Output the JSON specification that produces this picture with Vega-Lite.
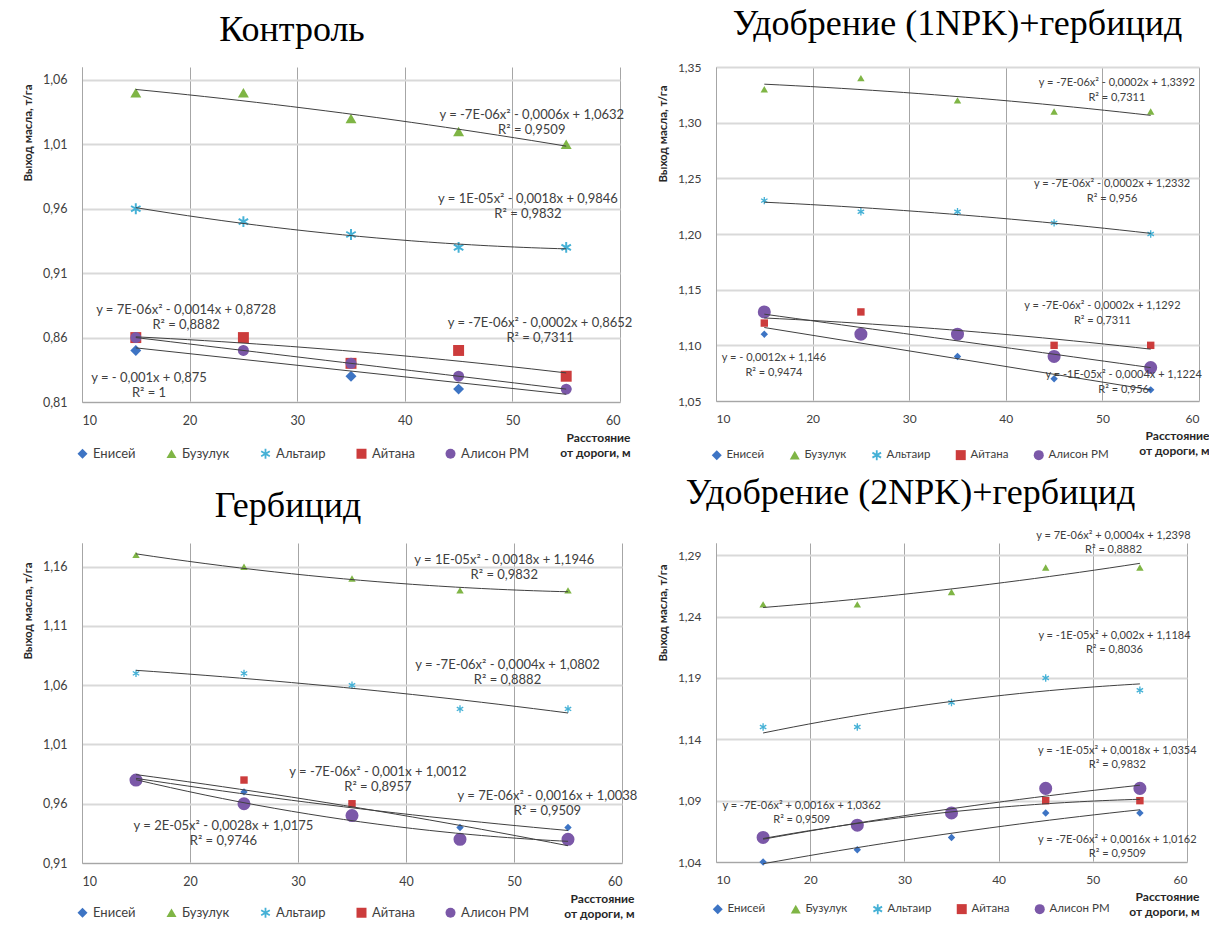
{
  "$schema": "https://vega.github.io/schema/vega-lite/v6.json",
  "padding": {"left": 22, "top": 6, "right": 0, "bottom": 0},
  "background": "white",
  "datasets": {
    "pts": [
      {"panel": "P1", "variety": "Енисей", "x": 15, "y": 0.85},
      {"panel": "P1", "variety": "Енисей", "x": 25, "y": 0.85},
      {"panel": "P1", "variety": "Енисей", "x": 35, "y": 0.83},
      {"panel": "P1", "variety": "Енисей", "x": 45, "y": 0.82},
      {"panel": "P1", "variety": "Енисей", "x": 55, "y": 0.82},
      {"panel": "P1", "variety": "Бузулук", "x": 15, "y": 1.05},
      {"panel": "P1", "variety": "Бузулук", "x": 25, "y": 1.05},
      {"panel": "P1", "variety": "Бузулук", "x": 35, "y": 1.03},
      {"panel": "P1", "variety": "Бузулук", "x": 45, "y": 1.02},
      {"panel": "P1", "variety": "Бузулук", "x": 55, "y": 1.01},
      {"panel": "P1", "variety": "Альтаир", "x": 15, "y": 0.96},
      {"panel": "P1", "variety": "Альтаир", "x": 25, "y": 0.95},
      {"panel": "P1", "variety": "Альтаир", "x": 35, "y": 0.94},
      {"panel": "P1", "variety": "Альтаир", "x": 45, "y": 0.93},
      {"panel": "P1", "variety": "Альтаир", "x": 55, "y": 0.93},
      {"panel": "P1", "variety": "Айтана", "x": 15, "y": 0.86},
      {"panel": "P1", "variety": "Айтана", "x": 25, "y": 0.86},
      {"panel": "P1", "variety": "Айтана", "x": 35, "y": 0.84},
      {"panel": "P1", "variety": "Айтана", "x": 45, "y": 0.85},
      {"panel": "P1", "variety": "Айтана", "x": 55, "y": 0.83},
      {"panel": "P1", "variety": "Алисон РМ", "x": 15, "y": 0.86},
      {"panel": "P1", "variety": "Алисон РМ", "x": 25, "y": 0.85},
      {"panel": "P1", "variety": "Алисон РМ", "x": 35, "y": 0.84},
      {"panel": "P1", "variety": "Алисон РМ", "x": 45, "y": 0.83},
      {"panel": "P1", "variety": "Алисон РМ", "x": 55, "y": 0.82},

      {"panel": "P2", "variety": "Енисей", "x": 15, "y": 1.11},
      {"panel": "P2", "variety": "Енисей", "x": 25, "y": 1.11},
      {"panel": "P2", "variety": "Енисей", "x": 35, "y": 1.09},
      {"panel": "P2", "variety": "Енисей", "x": 45, "y": 1.07},
      {"panel": "P2", "variety": "Енисей", "x": 55, "y": 1.06},
      {"panel": "P2", "variety": "Бузулук", "x": 15, "y": 1.33},
      {"panel": "P2", "variety": "Бузулук", "x": 25, "y": 1.34},
      {"panel": "P2", "variety": "Бузулук", "x": 35, "y": 1.32},
      {"panel": "P2", "variety": "Бузулук", "x": 45, "y": 1.31},
      {"panel": "P2", "variety": "Бузулук", "x": 55, "y": 1.31},
      {"panel": "P2", "variety": "Альтаир", "x": 15, "y": 1.23},
      {"panel": "P2", "variety": "Альтаир", "x": 25, "y": 1.22},
      {"panel": "P2", "variety": "Альтаир", "x": 35, "y": 1.22},
      {"panel": "P2", "variety": "Альтаир", "x": 45, "y": 1.21},
      {"panel": "P2", "variety": "Альтаир", "x": 55, "y": 1.20},
      {"panel": "P2", "variety": "Айтана", "x": 15, "y": 1.12},
      {"panel": "P2", "variety": "Айтана", "x": 25, "y": 1.13},
      {"panel": "P2", "variety": "Айтана", "x": 35, "y": 1.11},
      {"panel": "P2", "variety": "Айтана", "x": 45, "y": 1.10},
      {"panel": "P2", "variety": "Айтана", "x": 55, "y": 1.10},
      {"panel": "P2", "variety": "Алисон РМ", "x": 15, "y": 1.13},
      {"panel": "P2", "variety": "Алисон РМ", "x": 25, "y": 1.11},
      {"panel": "P2", "variety": "Алисон РМ", "x": 35, "y": 1.11},
      {"panel": "P2", "variety": "Алисон РМ", "x": 45, "y": 1.09},
      {"panel": "P2", "variety": "Алисон РМ", "x": 55, "y": 1.08},

      {"panel": "P3", "variety": "Енисей", "x": 15, "y": 0.98},
      {"panel": "P3", "variety": "Енисей", "x": 25, "y": 0.97},
      {"panel": "P3", "variety": "Енисей", "x": 35, "y": 0.96},
      {"panel": "P3", "variety": "Енисей", "x": 45, "y": 0.94},
      {"panel": "P3", "variety": "Енисей", "x": 55, "y": 0.94},
      {"panel": "P3", "variety": "Бузулук", "x": 15, "y": 1.17},
      {"panel": "P3", "variety": "Бузулук", "x": 25, "y": 1.16},
      {"panel": "P3", "variety": "Бузулук", "x": 35, "y": 1.15},
      {"panel": "P3", "variety": "Бузулук", "x": 45, "y": 1.14},
      {"panel": "P3", "variety": "Бузулук", "x": 55, "y": 1.14},
      {"panel": "P3", "variety": "Альтаир", "x": 15, "y": 1.07},
      {"panel": "P3", "variety": "Альтаир", "x": 25, "y": 1.07},
      {"panel": "P3", "variety": "Альтаир", "x": 35, "y": 1.06},
      {"panel": "P3", "variety": "Альтаир", "x": 45, "y": 1.04},
      {"panel": "P3", "variety": "Альтаир", "x": 55, "y": 1.04},
      {"panel": "P3", "variety": "Айтана", "x": 15, "y": 0.98},
      {"panel": "P3", "variety": "Айтана", "x": 25, "y": 0.98},
      {"panel": "P3", "variety": "Айтана", "x": 35, "y": 0.96},
      {"panel": "P3", "variety": "Айтана", "x": 45, "y": 0.93},
      {"panel": "P3", "variety": "Айтана", "x": 55, "y": 0.93},
      {"panel": "P3", "variety": "Алисон РМ", "x": 15, "y": 0.98},
      {"panel": "P3", "variety": "Алисон РМ", "x": 25, "y": 0.96},
      {"panel": "P3", "variety": "Алисон РМ", "x": 35, "y": 0.95},
      {"panel": "P3", "variety": "Алисон РМ", "x": 45, "y": 0.93},
      {"panel": "P3", "variety": "Алисон РМ", "x": 55, "y": 0.93},

      {"panel": "P4", "variety": "Енисей", "x": 15, "y": 1.04},
      {"panel": "P4", "variety": "Енисей", "x": 25, "y": 1.05},
      {"panel": "P4", "variety": "Енисей", "x": 35, "y": 1.06},
      {"panel": "P4", "variety": "Енисей", "x": 45, "y": 1.08},
      {"panel": "P4", "variety": "Енисей", "x": 55, "y": 1.08},
      {"panel": "P4", "variety": "Бузулук", "x": 15, "y": 1.25},
      {"panel": "P4", "variety": "Бузулук", "x": 25, "y": 1.25},
      {"panel": "P4", "variety": "Бузулук", "x": 35, "y": 1.26},
      {"panel": "P4", "variety": "Бузулук", "x": 45, "y": 1.28},
      {"panel": "P4", "variety": "Бузулук", "x": 55, "y": 1.28},
      {"panel": "P4", "variety": "Альтаир", "x": 15, "y": 1.15},
      {"panel": "P4", "variety": "Альтаир", "x": 25, "y": 1.15},
      {"panel": "P4", "variety": "Альтаир", "x": 35, "y": 1.17},
      {"panel": "P4", "variety": "Альтаир", "x": 45, "y": 1.19},
      {"panel": "P4", "variety": "Альтаир", "x": 55, "y": 1.18},
      {"panel": "P4", "variety": "Айтана", "x": 15, "y": 1.06},
      {"panel": "P4", "variety": "Айтана", "x": 25, "y": 1.07},
      {"panel": "P4", "variety": "Айтана", "x": 35, "y": 1.08},
      {"panel": "P4", "variety": "Айтана", "x": 45, "y": 1.09},
      {"panel": "P4", "variety": "Айтана", "x": 55, "y": 1.09},
      {"panel": "P4", "variety": "Алисон РМ", "x": 15, "y": 1.06},
      {"panel": "P4", "variety": "Алисон РМ", "x": 25, "y": 1.07},
      {"panel": "P4", "variety": "Алисон РМ", "x": 35, "y": 1.08},
      {"panel": "P4", "variety": "Алисон РМ", "x": 45, "y": 1.10},
      {"panel": "P4", "variety": "Алисон РМ", "x": 55, "y": 1.10}
    ],
    "eqs": [
      {"panel": "P1", "x": 51.8, "y": 1.0327, "eq": "y = -7E-06x² - 0,0006x + 1,0632", "r2": "R² = 0,9509"},
      {"panel": "P1", "x": 51.45, "y": 0.9675, "eq": "y = 1E-05x² - 0,0018x + 0,9846", "r2": "R² = 0,9832"},
      {"panel": "P1", "x": 19.67, "y": 0.8813, "eq": "y = 7E-06x² - 0,0014x + 0,8728", "r2": "R² = 0,8882"},
      {"panel": "P1", "x": 52.57, "y": 0.8712, "eq": "y = -7E-06x² - 0,0002x + 0,8652", "r2": "R² = 0,7311"},
      {"panel": "P1", "x": 16.23, "y": 0.8285, "eq": "y =  - 0,001x + 0,875", "r2": "R² = 1"},
      {"panel": "P2", "x": 51.5, "y": 1.3356, "eq": "y = -7E-06x² - 0,0002x + 1,3392", "r2": "R² = 0,7311"},
      {"panel": "P2", "x": 51.0, "y": 1.2449, "eq": "y = -7E-06x² - 0,0002x + 1,2332", "r2": "R² = 0,956"},
      {"panel": "P2", "x": 50.0, "y": 1.1353, "eq": "y = -7E-06x² - 0,0002x + 1,1292", "r2": "R² = 0,7311"},
      {"panel": "P2", "x": 16.0, "y": 1.0885, "eq": "y =  - 0,0012x + 1,146", "r2": "R² = 0,9474"},
      {"panel": "P2", "x": 52.2, "y": 1.0733, "eq": "y = -1E-05x² - 0,0004x + 1,1224", "r2": "R² = 0,956"},
      {"panel": "P3", "x": 49.1, "y": 1.1656, "eq": "y = 1E-05x² - 0,0018x + 1,1946", "r2": "R² = 0,9832"},
      {"panel": "P3", "x": 49.4, "y": 1.077, "eq": "y = -7E-06x² - 0,0004x + 1,0802", "r2": "R² = 0,8882"},
      {"panel": "P3", "x": 37.4, "y": 0.9866, "eq": "y = -7E-06x² - 0,001x + 1,0012", "r2": "R² = 0,8957"},
      {"panel": "P3", "x": 53.1, "y": 0.9663, "eq": "y = 7E-06x² - 0,0016x + 1,0038", "r2": "R² = 0,9509"},
      {"panel": "P3", "x": 23.1, "y": 0.941, "eq": "y = 2E-05x² - 0,0028x + 1,0175", "r2": "R² = 0,9746"},
      {"panel": "P4", "x": 52.2, "y": 1.3057, "eq": "y = 7E-06x² + 0,0004x + 1,2398", "r2": "R² = 0,8882"},
      {"panel": "P4", "x": 52.3, "y": 1.2243, "eq": "y = -1E-05x² + 0,002x + 1,1184", "r2": "R² = 0,8036"},
      {"panel": "P4", "x": 52.6, "y": 1.1306, "eq": "y = -1E-05x² + 0,0018x + 1,0354", "r2": "R² = 0,9832"},
      {"panel": "P4", "x": 19.1, "y": 1.0858, "eq": "y = -7E-06x² + 0,0016x + 1,0362", "r2": "R² = 0,9509"},
      {"panel": "P4", "x": 52.6, "y": 1.0581, "eq": "y = -7E-06x² + 0,0016x + 1,0162", "r2": "R² = 0,9509"}
    ]
  },
  "columns": 2,
  "bounds": "flush",
  "spacing": {"row": 141, "column": 94},
  "resolve": {
    "scale": {"x": "independent", "y": "independent", "color": "independent", "shape": "independent"},
    "axis": {"x": "independent", "y": "independent"},
    "legend": {"color": "independent", "shape": "independent"}
  },
  "concat": [
    {
      "width": 538, "height": 335,
      "title": {"text": "Контроль", "fontSize": 36, "anchor": "middle", "frame": "group", "dx": -59, "offset": -10, "baseline": "alphabetic"},
      "layer": [
        {
          "data": {"name": "pts"},
          "transform": [{"filter": "datum.panel === 'P1'"}],
          "mark": {"type": "point", "filled": true, "opacity": 1, "size": 120},
          "encoding": {
            "x": {"field": "x", "type": "quantitative", "scale": {"domain": [10, 60], "nice": false},
              "axis": {"values": [10, 20, 30, 40, 50, 60], "labelFontSize": 12.5, "labelPadding": 12, "title": ["Расстояние", "от дороги, м"], "titleAnchor": "end", "titleAlign": "right", "titleX": 548, "titlePadding": 6, "titleFontSize": 12, "titleFontWeight": "bold", "titleLineHeight": 15}},
            "y": {"field": "y", "type": "quantitative", "scale": {"domain": [0.81, 1.07], "nice": false, "zero": false},
              "axis": {"values": [0.81, 0.86, 0.91, 0.96, 1.01, 1.06], "labelExpr": "replace(format(datum.value, '.2f'), '.', ',')", "labelFontSize": 12.5, "labelPadding": 15, "title": "Выход масла,  т/га", "titleAnchor": "end", "titleY": 17, "titlePadding": 9, "titleFontSize": 11.5, "titleFontWeight": "bold"}},
            "color": {"field": "variety", "type": "nominal",
              "scale": {"domain": ["Енисей", "Бузулук", "Альтаир", "Айтана", "Алисон РМ"], "range": ["#3d74c4", "#7fb545", "#45b1d6", "#cc3c3c", "#7b58a8"]},
              "legend": {"title": null, "orient": "none", "direction": "horizontal", "legendX": -6, "legendY": 380, "labelFontSize": 13, "columnPadding": 29, "labelOffset": 4, "symbolSize": 100}},
            "shape": {"field": "variety", "type": "nominal",
              "scale": {"domain": ["Енисей", "Бузулук", "Альтаир", "Айтана", "Алисон РМ"], "range": ["diamond", "triangle-up", "M-0.18,-1L0.18,-1L0.18,1L-0.18,1ZM-0.956,-0.344L-0.776,-0.656L0.956,0.344L0.776,0.656ZM0.776,-0.656L0.956,-0.344L-0.776,0.656L-0.956,0.344Z", "square", "circle"]},
              "legend": {"title": null, "orient": "none", "direction": "horizontal", "legendX": -6, "legendY": 380, "labelFontSize": 13, "columnPadding": 29, "labelOffset": 4, "symbolSize": 100}}
          }
        },
        {
          "data": {"name": "pts"},
          "transform": [{"filter": "datum.panel === 'P1' && datum.variety !== 'Енисей'"}, {"regression": "y", "on": "x", "groupby": ["variety"], "method": "poly", "order": 2}],
          "mark": {"type": "line", "color": "#404040", "strokeWidth": 1},
          "encoding": {"x": {"field": "x", "type": "quantitative"}, "y": {"field": "y", "type": "quantitative"}, "detail": {"field": "variety", "type": "nominal"}}
        },
        {
          "data": {"name": "pts"},
          "transform": [{"filter": "datum.panel === 'P1' && datum.variety === 'Енисей'"}, {"regression": "y", "on": "x", "method": "linear"}],
          "mark": {"type": "line", "color": "#404040", "strokeWidth": 1},
          "encoding": {"x": {"field": "x", "type": "quantitative"}, "y": {"field": "y", "type": "quantitative"}}
        },
        {
          "data": {"name": "eqs"},
          "transform": [{"filter": "datum.panel === 'P1'"}],
          "mark": {"type": "text", "font": "Lato", "fontSize": 13, "color": "#404040", "align": "center", "baseline": "middle"},
          "encoding": {"x": {"field": "x", "type": "quantitative"}, "y": {"field": "y", "type": "quantitative"}, "text": {"field": "eq"}}
        },
        {
          "data": {"name": "eqs"},
          "transform": [{"filter": "datum.panel === 'P1'"}],
          "mark": {"type": "text", "font": "Lato", "fontSize": 13, "color": "#404040", "align": "center", "baseline": "middle", "dy": 15},
          "encoding": {"x": {"field": "x", "type": "quantitative"}, "y": {"field": "y", "type": "quantitative"}, "text": {"field": "r2"}}
        }
      ]
    },
    {
      "width": 483, "height": 334,
      "title": {"text": "Удобрение (1NPK)+гербицид", "fontSize": 36, "anchor": "middle", "frame": "group", "dx": 0, "offset": -10, "baseline": "alphabetic"},
      "layer": [
        {
          "data": {"name": "pts"},
          "transform": [{"filter": "datum.panel === 'P2'"}],
          "mark": {"type": "point", "filled": true, "opacity": 1},
          "encoding": {
            "x": {"field": "x", "type": "quantitative", "scale": {"domain": [10, 60], "nice": false},
              "axis": {"values": [10, 20, 30, 40, 50, 60], "labelFontSize": 12, "labelPadding": 12, "title": ["Расстояние", "от дороги, м"], "titleAnchor": "end", "titleAlign": "right", "titleX": 493, "titlePadding": 6, "titleFontSize": 12, "titleFontWeight": "bold", "titleLineHeight": 15}},
            "y": {"field": "y", "type": "quantitative", "scale": {"domain": [1.05, 1.35], "nice": false, "zero": false},
              "axis": {"values": [1.05, 1.10, 1.15, 1.20, 1.25, 1.30, 1.35], "labelExpr": "replace(format(datum.value, '.2f'), '.', ',')", "labelFontSize": 12, "labelPadding": 15, "title": "Выход масла,  т/га", "titleAnchor": "end", "titleY": 18, "titlePadding": 9, "titleFontSize": 11.5, "titleFontWeight": "bold"}},
            "size": {"condition": {"test": "datum.variety === 'Алисон РМ'", "value": 170}, "value": 55},
            "color": {"field": "variety", "type": "nominal",
              "scale": {"domain": ["Енисей", "Бузулук", "Альтаир", "Айтана", "Алисон РМ"], "range": ["#3d74c4", "#7fb545", "#45b1d6", "#cc3c3c", "#7b58a8"]},
              "legend": {"title": null, "orient": "none", "direction": "horizontal", "legendX": -5, "legendY": 382, "labelFontSize": 11.5, "columnPadding": 24, "labelOffset": 4, "encode": {"symbols": {"update": {"size": {"signal": "datum.value === 'Алисон РМ' ? 110 : 45"}}}}}},
            "shape": {"field": "variety", "type": "nominal",
              "scale": {"domain": ["Енисей", "Бузулук", "Альтаир", "Айтана", "Алисон РМ"], "range": ["diamond", "triangle-up", "M-0.18,-1L0.18,-1L0.18,1L-0.18,1ZM-0.956,-0.344L-0.776,-0.656L0.956,0.344L0.776,0.656ZM0.776,-0.656L0.956,-0.344L-0.776,0.656L-0.956,0.344Z", "square", "circle"]},
              "legend": {"title": null, "orient": "none", "direction": "horizontal", "legendX": -5, "legendY": 382, "labelFontSize": 11.5, "columnPadding": 24, "labelOffset": 4, "encode": {"symbols": {"update": {"size": {"signal": "datum.value === 'Алисон РМ' ? 110 : 45"}}}}}}
          }
        },
        {
          "data": {"name": "pts"},
          "transform": [{"filter": "datum.panel === 'P2' && datum.variety !== 'Енисей'"}, {"regression": "y", "on": "x", "groupby": ["variety"], "method": "poly", "order": 2}],
          "mark": {"type": "line", "color": "#404040", "strokeWidth": 1},
          "encoding": {"x": {"field": "x", "type": "quantitative"}, "y": {"field": "y", "type": "quantitative"}, "detail": {"field": "variety", "type": "nominal"}}
        },
        {
          "data": {"name": "pts"},
          "transform": [{"filter": "datum.panel === 'P2' && datum.variety === 'Енисей'"}, {"regression": "y", "on": "x", "method": "linear"}],
          "mark": {"type": "line", "color": "#404040", "strokeWidth": 1},
          "encoding": {"x": {"field": "x", "type": "quantitative"}, "y": {"field": "y", "type": "quantitative"}}
        },
        {
          "data": {"name": "eqs"},
          "transform": [{"filter": "datum.panel === 'P2'"}],
          "mark": {"type": "text", "font": "Lato", "fontSize": 11, "color": "#404040", "align": "center", "baseline": "middle"},
          "encoding": {"x": {"field": "x", "type": "quantitative"}, "y": {"field": "y", "type": "quantitative"}, "text": {"field": "eq"}}
        },
        {
          "data": {"name": "eqs"},
          "transform": [{"filter": "datum.panel === 'P2'"}],
          "mark": {"type": "text", "font": "Lato", "fontSize": 11, "color": "#404040", "align": "center", "baseline": "middle", "dy": 15},
          "encoding": {"x": {"field": "x", "type": "quantitative"}, "y": {"field": "y", "type": "quantitative"}, "text": {"field": "r2"}}
        }
      ]
    },
    {
      "width": 540, "height": 320,
      "title": {"text": "Гербицид", "fontSize": 36, "anchor": "middle", "frame": "group", "dx": -64, "offset": -10, "baseline": "alphabetic"},
      "layer": [
        {
          "data": {"name": "pts"},
          "transform": [{"filter": "datum.panel === 'P3'"}],
          "mark": {"type": "point", "filled": true, "opacity": 1},
          "encoding": {
            "x": {"field": "x", "type": "quantitative", "scale": {"domain": [10, 60], "nice": false},
              "axis": {"values": [10, 20, 30, 40, 50, 60], "labelFontSize": 12.5, "labelPadding": 12, "title": ["Расстояние", "от дороги, м"], "titleAnchor": "end", "titleAlign": "right", "titleX": 552, "titlePadding": 6, "titleFontSize": 12, "titleFontWeight": "bold", "titleLineHeight": 15}},
            "y": {"field": "y", "type": "quantitative", "scale": {"domain": [0.91, 1.18], "nice": false, "zero": false},
              "axis": {"values": [0.91, 0.96, 1.01, 1.06, 1.11, 1.16], "labelExpr": "replace(format(datum.value, '.2f'), '.', ',')", "labelFontSize": 12.5, "labelPadding": 15, "title": "Выход масла,  т/га", "titleAnchor": "end", "titleY": 19, "titlePadding": 9, "titleFontSize": 11.5, "titleFontWeight": "bold"}},
            "size": {"condition": {"test": "datum.variety === 'Алисон РМ'", "value": 170}, "value": 55},
            "color": {"field": "variety", "type": "nominal",
              "scale": {"domain": ["Енисей", "Бузулук", "Альтаир", "Айтана", "Алисон РМ"], "range": ["#3d74c4", "#7fb545", "#45b1d6", "#cc3c3c", "#7b58a8"]},
              "legend": {"title": null, "orient": "none", "direction": "horizontal", "legendX": -6, "legendY": 363, "labelFontSize": 13, "columnPadding": 29, "labelOffset": 4, "encode": {"symbols": {"update": {"size": {"signal": "datum.value === 'Алисон РМ' ? 110 : 45"}}}}}},
            "shape": {"field": "variety", "type": "nominal",
              "scale": {"domain": ["Енисей", "Бузулук", "Альтаир", "Айтана", "Алисон РМ"], "range": ["diamond", "triangle-up", "M-0.18,-1L0.18,-1L0.18,1L-0.18,1ZM-0.956,-0.344L-0.776,-0.656L0.956,0.344L0.776,0.656ZM0.776,-0.656L0.956,-0.344L-0.776,0.656L-0.956,0.344Z", "square", "circle"]},
              "legend": {"title": null, "orient": "none", "direction": "horizontal", "legendX": -6, "legendY": 363, "labelFontSize": 13, "columnPadding": 29, "labelOffset": 4, "encode": {"symbols": {"update": {"size": {"signal": "datum.value === 'Алисон РМ' ? 110 : 45"}}}}}}
          }
        },
        {
          "data": {"name": "pts"},
          "transform": [{"filter": "datum.panel === 'P3'"}, {"regression": "y", "on": "x", "groupby": ["variety"], "method": "poly", "order": 2}],
          "mark": {"type": "line", "color": "#404040", "strokeWidth": 1},
          "encoding": {"x": {"field": "x", "type": "quantitative"}, "y": {"field": "y", "type": "quantitative"}, "detail": {"field": "variety", "type": "nominal"}}
        },
        {
          "data": {"name": "eqs"},
          "transform": [{"filter": "datum.panel === 'P3'"}],
          "mark": {"type": "text", "font": "Lato", "fontSize": 13, "color": "#404040", "align": "center", "baseline": "middle"},
          "encoding": {"x": {"field": "x", "type": "quantitative"}, "y": {"field": "y", "type": "quantitative"}, "text": {"field": "eq"}}
        },
        {
          "data": {"name": "eqs"},
          "transform": [{"filter": "datum.panel === 'P3'"}],
          "mark": {"type": "text", "font": "Lato", "fontSize": 13, "color": "#404040", "align": "center", "baseline": "middle", "dy": 15},
          "encoding": {"x": {"field": "x", "type": "quantitative"}, "y": {"field": "y", "type": "quantitative"}, "text": {"field": "r2"}}
        }
      ]
    },
    {
      "width": 471, "height": 319,
      "title": {"text": "Удобрение (2NPK)+гербицид", "fontSize": 36, "anchor": "middle", "frame": "group", "dx": -41, "offset": -10, "baseline": "alphabetic"},
      "layer": [
        {
          "data": {"name": "pts"},
          "transform": [{"filter": "datum.panel === 'P4'"}],
          "mark": {"type": "point", "filled": true, "opacity": 1},
          "encoding": {
            "x": {"field": "x", "type": "quantitative", "scale": {"domain": [10, 60], "nice": false},
              "axis": {"values": [10, 20, 30, 40, 50, 60], "labelFontSize": 12, "labelPadding": 12, "title": ["Расстояние", "от дороги, м"], "titleAnchor": "end", "titleAlign": "right", "titleX": 483, "titlePadding": 6, "titleFontSize": 12, "titleFontWeight": "bold", "titleLineHeight": 15}},
            "y": {"field": "y", "type": "quantitative", "scale": {"domain": [1.04, 1.30], "nice": false, "zero": false},
              "axis": {"values": [1.04, 1.09, 1.14, 1.19, 1.24, 1.29], "labelExpr": "replace(format(datum.value, '.2f'), '.', ',')", "labelFontSize": 12, "labelPadding": 15, "title": "Выход масла,  т/га", "titleAnchor": "end", "titleY": 21, "titlePadding": 9, "titleFontSize": 11.5, "titleFontWeight": "bold"}},
            "size": {"condition": {"test": "datum.variety === 'Алисон РМ'", "value": 170}, "value": 55},
            "color": {"field": "variety", "type": "nominal",
              "scale": {"domain": ["Енисей", "Бузулук", "Альтаир", "Айтана", "Алисон РМ"], "range": ["#3d74c4", "#7fb545", "#45b1d6", "#cc3c3c", "#7b58a8"]},
              "legend": {"title": null, "orient": "none", "direction": "horizontal", "legendX": -4, "legendY": 360, "labelFontSize": 11.5, "columnPadding": 24, "labelOffset": 4, "encode": {"symbols": {"update": {"size": {"signal": "datum.value === 'Алисон РМ' ? 110 : 45"}}}}}},
            "shape": {"field": "variety", "type": "nominal",
              "scale": {"domain": ["Енисей", "Бузулук", "Альтаир", "Айтана", "Алисон РМ"], "range": ["diamond", "triangle-up", "M-0.18,-1L0.18,-1L0.18,1L-0.18,1ZM-0.956,-0.344L-0.776,-0.656L0.956,0.344L0.776,0.656ZM0.776,-0.656L0.956,-0.344L-0.776,0.656L-0.956,0.344Z", "square", "circle"]},
              "legend": {"title": null, "orient": "none", "direction": "horizontal", "legendX": -4, "legendY": 360, "labelFontSize": 11.5, "columnPadding": 24, "labelOffset": 4, "encode": {"symbols": {"update": {"size": {"signal": "datum.value === 'Алисон РМ' ? 110 : 45"}}}}}}
          }
        },
        {
          "data": {"name": "pts"},
          "transform": [{"filter": "datum.panel === 'P4'"}, {"regression": "y", "on": "x", "groupby": ["variety"], "method": "poly", "order": 2}],
          "mark": {"type": "line", "color": "#404040", "strokeWidth": 1},
          "encoding": {"x": {"field": "x", "type": "quantitative"}, "y": {"field": "y", "type": "quantitative"}, "detail": {"field": "variety", "type": "nominal"}}
        },
        {
          "data": {"name": "eqs"},
          "transform": [{"filter": "datum.panel === 'P4'"}],
          "mark": {"type": "text", "font": "Lato", "fontSize": 11, "color": "#404040", "align": "center", "baseline": "middle"},
          "encoding": {"x": {"field": "x", "type": "quantitative"}, "y": {"field": "y", "type": "quantitative"}, "text": {"field": "eq"}}
        },
        {
          "data": {"name": "eqs"},
          "transform": [{"filter": "datum.panel === 'P4'"}],
          "mark": {"type": "text", "font": "Lato", "fontSize": 11, "color": "#404040", "align": "center", "baseline": "middle", "dy": 14},
          "encoding": {"x": {"field": "x", "type": "quantitative"}, "y": {"field": "y", "type": "quantitative"}, "text": {"field": "r2"}}
        }
      ]
    }
  ],
  "config": {
    "view": {"stroke": null},
    "font": "Lato",
    "axis": {"labelFont": "Lato", "labelColor": "#404040", "ticks": false, "domainColor": "#a6a6a6", "titleFont": "Lato", "titleColor": "#262626", "grid": true},
    "axisX": {"gridColor": "#a6a6a6", "gridWidth": 1, "labelAngle": 0},
    "axisY": {"gridColor": "#d9d9d9", "gridWidth": 2},
    "legend": {"labelFont": "Lato", "labelColor": "#404040", "symbolStrokeWidth": 0},
    "title": {"font": "Liberation Serif", "fontWeight": "normal", "color": "#000000"}
  }
}
